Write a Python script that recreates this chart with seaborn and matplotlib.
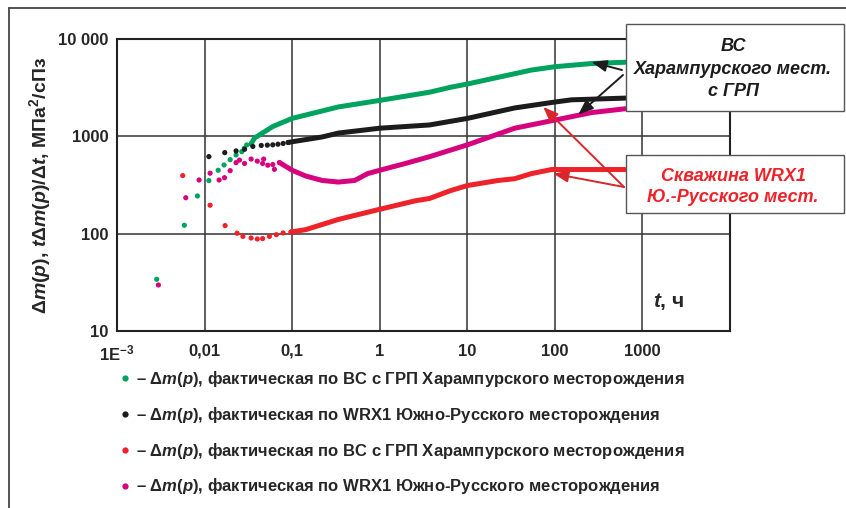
import matplotlib
matplotlib.use("Agg")
import matplotlib.pyplot as plt
import matplotlib.font_manager as fm
from matplotlib.patches import Rectangle
from matplotlib.lines import Line2D
import seaborn as sns
import pandas as pd

# --- data (t in hours, value in MPa^2/cP) ---
green_dots_t = [0.00284, 0.00588, 0.00828, 0.0112, 0.0143, 0.0167, 0.0196, 0.0229, 0.0266, 0.0285, 0.0303, 0.034]
green_dots_v = [34, 122, 244, 351, 448, 508, 576, 644, 696, 754, 816, 836]
green_line_t = [0.034, 0.0371, 0.0601, 0.1, 0.337, 1, 3.71, 6.44, 10, 54, 100, 263, 631]
green_line_v = [836, 959, 1261, 1528, 2005, 2339, 2840, 3192, 3446, 4797, 5190, 5596, 5770]

black_dots_t = [0.0112, 0.017, 0.0229, 0.0286, 0.0356, 0.0444, 0.0521, 0.0601, 0.0689, 0.0789, 0.09]
black_dots_v = [619, 680, 708, 736, 787, 806, 812, 818, 830, 845, 865]
black_line_t = [0.09, 0.106, 0.22, 0.337, 1, 3.71, 10, 34.8, 100, 155, 660]
black_line_v = [865, 887, 985, 1080, 1212, 1309, 1528, 1958, 2251, 2372, 2473]

red_dots_t = [0.00563, 0.01156, 0.01715, 0.0235, 0.0274, 0.034, 0.040, 0.046, 0.055, 0.066, 0.0789, 0.097]
red_dots_v = [395, 196, 121, 101, 93.8, 90.3, 88.2, 89, 93.8, 97.6, 101.7, 104]
red_line_t = [0.097, 0.143, 0.337, 1, 2.57, 3.71, 6.44, 10, 22.5, 34.8, 54, 91.6, 155, 631]
red_line_v = [104, 110, 140, 178, 218, 230, 277, 312, 352, 367, 414, 456, 456, 456]

magenta_dots_t = [0.00297, 0.0061, 0.00866, 0.01156, 0.01465, 0.0169, 0.0196, 0.0229, 0.025, 0.0286,
                  0.034, 0.040, 0.046, 0.0473, 0.0527, 0.0601, 0.0627, 0.0716]
magenta_dots_v = [29.7, 234, 356, 418, 356, 376, 444, 537, 570, 526, 584, 556, 526, 584, 505, 513, 458, 538]
magenta_line_t = [0.0716, 0.1, 0.143, 0.22, 0.337, 0.518, 0.728, 1, 1.96, 3.71, 10, 34.8, 100, 263, 660]
magenta_line_v = [538, 448, 391, 352, 339, 352, 414, 448, 526, 618, 817, 1212, 1469, 1754, 1927]

y_ticks = [10, 100, 1000, 10000]
y_ticklabels = ["10", "100", "1000", "10 000"]
x_ticks = [1e-3, 1e-2, 1e-1, 1, 10, 100, 1000, 10000]
x_ticklabels = ["1E$^{-3}$", "0,01", "0,1", "1", "10", "100", "1000", ""]

legend_labels = [
    "– Δ$m$($p$), фактическая по ВС с ГРП Харампурского месторождения",
    "– Δ$m$($p$), фактическая по WRX1 Южно-Русского месторождения",
    "– Δ$m$($p$), фактическая по ВС с ГРП Харампурского месторождения",
    "– Δ$m$($p$), фактическая по WRX1 Южно-Русского месторождения",
]

GREEN, BLACK, RED, MAGENTA = "#00a35e", "#1c1c1c", "#ee2229", "#d6037f"

sns.set_style("white")
names = {f.name for f in fm.fontManager.ttflist}
FONT = "Liberation Sans Narrow" if "Liberation Sans Narrow" in names else "Liberation Sans"
plt.rcParams["font.family"] = [FONT, "DejaVu Sans"]
plt.rcParams["font.weight"] = "bold"
plt.rcParams["mathtext.fontset"] = "custom"
plt.rcParams["mathtext.rm"] = FONT + ":bold"
plt.rcParams["mathtext.bf"] = FONT + ":bold"
plt.rcParams["mathtext.it"] = FONT + ":italic:bold"

fig = plt.figure(figsize=(8.46, 5.08), dpi=100)
W, H = 846, 508
ax = fig.add_axes([117 / W, 1 - 331 / H, (730 - 117) / W, (331 - 39) / H])

series = [
    (green_dots_t, green_dots_v, green_line_t, green_line_v, GREEN),
    (black_dots_t, black_dots_v, black_line_t, black_line_v, BLACK),
    (red_dots_t, red_dots_v, red_line_t, red_line_v, RED),
    (magenta_dots_t, magenta_dots_v, magenta_line_t, magenta_line_v, MAGENTA),
]
handles = []
for dt, dv, lt, lv, col in series:
    dots = pd.DataFrame({"t": dt, "v": dv})
    line = pd.DataFrame({"t": lt, "v": lv})
    sns.lineplot(data=line, x="t", y="v", color=col, lw=3.6, estimator=None,
                 sort=False, ax=ax, solid_capstyle="round", solid_joinstyle="round", zorder=3)
    sns.scatterplot(data=dots, x="t", y="v", color=col, s=14, edgecolor="none", ax=ax, zorder=3)
    handles.append(Line2D([], [], ls="none", marker="o", ms=4.5, mfc=col, mec="none"))

ax.set_xscale("log")
ax.set_yscale("log")
ax.set_xlim(1e-3, 1e4)
ax.set_ylim(10, 10000)
ax.minorticks_off()
ax.set_xticks(x_ticks)
ax.set_xticklabels(x_ticklabels, fontsize=12, fontweight="bold")
ax.set_yticks(y_ticks)
ax.set_yticklabels(y_ticklabels, fontsize=12, fontweight="bold")
ax.tick_params(axis="y", length=0, pad=6)
ax.tick_params(axis="x", length=0, pad=9)
ax.grid(True, color="#333333", lw=1.1)
for s in ax.spines.values():
    s.set_color("#222222")
    s.set_linewidth(1.5)
ax.set_xlabel("")
ax.set_ylabel("Δ$m$($p$), $t$Δ$m$($p$)/Δ$t$, МПа$^2$/сПз", fontsize=14, fontweight="bold")
ax.yaxis.set_label_coords(-0.104, 0.5)
ax.text(0.9, 0.1, "$t$, ч", transform=ax.transAxes, fontsize=15, fontweight="bold",
        ha="center", va="center")

# annotation boxes over the top-right corner
fig.patches.append(Rectangle((626 / W, 1 - 111 / H), 218 / W, 87 / H, transform=fig.transFigure,
                             facecolor="white", edgecolor="#555555", lw=1.0, zorder=5))
fig.patches.append(Rectangle((626 / W, 1 - 213 / H), 218 / W, 58 / H, transform=fig.transFigure,
                             facecolor="white", edgecolor="#555555", lw=1.0, zorder=5))
fig.text(733 / W, 1 - 69 / H, "ВС\nХарампурского мест.\nс ГРП", ha="center", va="center",
         fontsize=13, fontweight="bold", style="italic", color="#1c1c1c", linespacing=1.4, zorder=6)
fig.text(733 / W, 1 - 187 / H, "Скважина WRX1\nЮ.-Русского мест.", ha="center", va="center",
         fontsize=13, fontweight="bold", style="italic", color=RED, linespacing=1.35, zorder=6)

arrow_k = dict(arrowstyle="-|>,head_length=0.9,head_width=0.35", lw=1.4, shrinkA=0, shrinkB=0)
ax.annotate("", xy=(263, 5800), xycoords="data", xytext=(622, H - 70), textcoords="figure pixels",
            arrowprops=dict(color=BLACK, **arrow_k))
ax.annotate("", xy=(185, 1671), xycoords="data", xytext=(623, H - 75), textcoords="figure pixels",
            arrowprops=dict(color=BLACK, **arrow_k))
ax.annotate("", xy=(73.6, 2005), xycoords="data", xytext=(624, H - 187), textcoords="figure pixels",
            arrowprops=dict(color="#d9262c", **arrow_k))
ax.annotate("", xy=(95.8, 414), xycoords="data", xytext=(624, H - 187), textcoords="figure pixels",
            arrowprops=dict(color="#d9262c", **arrow_k))

fig.legend(handles, legend_labels, loc="upper left", bbox_to_anchor=(118 / W, 1 - 369 / H),
           frameon=False, prop={"family": FONT, "weight": "bold", "size": 12},
           handlelength=0.8, handletextpad=0.3, labelspacing=0.95, borderpad=0, borderaxespad=0)

# outer frame (left and top edges)
fig.add_artist(Line2D([9 / W, 9 / W], [0, 1 - 8 / H], transform=fig.transFigure, color="#444444", lw=1.3))
fig.add_artist(Line2D([9 / W, 1], [1 - 8 / H, 1 - 8 / H], transform=fig.transFigure, color="#444444", lw=1.3))

fig.savefig("out.png", dpi=100)
